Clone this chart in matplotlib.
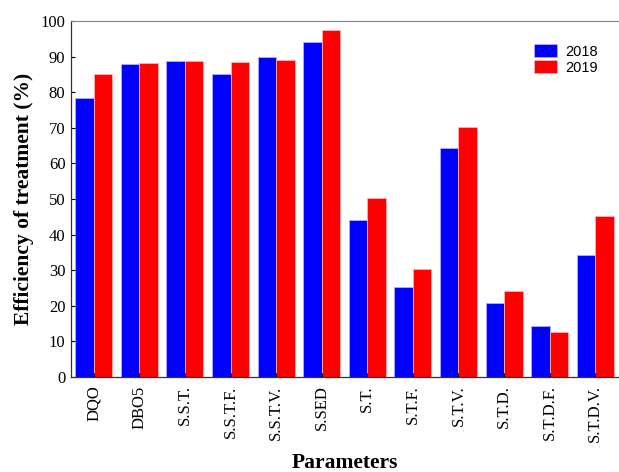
import matplotlib
matplotlib.use("Agg")
import matplotlib.pyplot as plt
import numpy as np

categories = ["DQO", "DBO5", "S.S.T.", "S.S.T.F.", "S.S.T.V.", "S.SED",
              "S.T.", "S.T.F.", "S.T.V.", "S.T.D.", "S.T.D.F.", "S.T.D.V."]
eff_2018 = [78.5, 88.0, 88.9, 85.2, 90.0, 94.0, 44.0, 25.2, 64.2, 20.9, 14.3, 34.2]
eff_2019 = [85.0, 88.3, 88.9, 88.5, 89.1, 97.4, 50.2, 30.4, 70.2, 24.2, 12.7, 45.1]
series_labels = ["2018", "2019"]
yticks = list(range(0, 101, 10))

fig = plt.figure(figsize=(6.19, 4.72), dpi=100)
ax = fig.add_axes([71/619, 1-377/472, 547/619, (377-21)/472])

x = np.arange(len(categories))
w = 0.405
ax.bar(x - w/2, eff_2018, width=w, color="#0000ff", edgecolor="#b0b0ff", linewidth=0.6, label=series_labels[0])
ax.bar(x + w/2, eff_2019, width=w, color="#ff0000", edgecolor="#ffb0b0", linewidth=0.6, label=series_labels[1])

ax.set_xlim(-0.5, len(categories) - 0.5)
ax.set_ylim(0, 100)
ax.set_yticks(yticks)
ax.set_xticks(x)
ax.set_xticklabels(categories, rotation=90, family="Liberation Serif", fontsize=12)
for lab in ax.get_yticklabels():
    lab.set_family("Liberation Serif")
    lab.set_fontsize(12)
ax.tick_params(axis="both", direction="in", length=3, width=0.8, colors="black", pad=4)
ax.tick_params(axis="x", pad=6)

for side in ["left", "bottom"]:
    ax.spines[side].set_color("#333333")
    ax.spines[side].set_linewidth(0.9)
ax.spines["top"].set_color("#808080")
ax.spines["right"].set_visible(False)

ax.set_ylabel("Efficiency of treatment (%)", family="Liberation Serif", fontweight="bold", fontsize=15.5, labelpad=5)
ax.set_xlabel("Parameters", family="Liberation Serif", fontweight="bold", fontsize=15.5, labelpad=8)

leg = ax.legend(loc="upper left", bbox_to_anchor=(534/619, 1-44/472), bbox_transform=fig.transFigure,
                frameon=False, borderpad=0, borderaxespad=0,
                prop={"family": "Liberation Sans", "size": 10.5},
                handlelength=1.6, handleheight=1.0, handletextpad=0.55, labelspacing=0.1)

fig.savefig("out.png", dpi=100)
